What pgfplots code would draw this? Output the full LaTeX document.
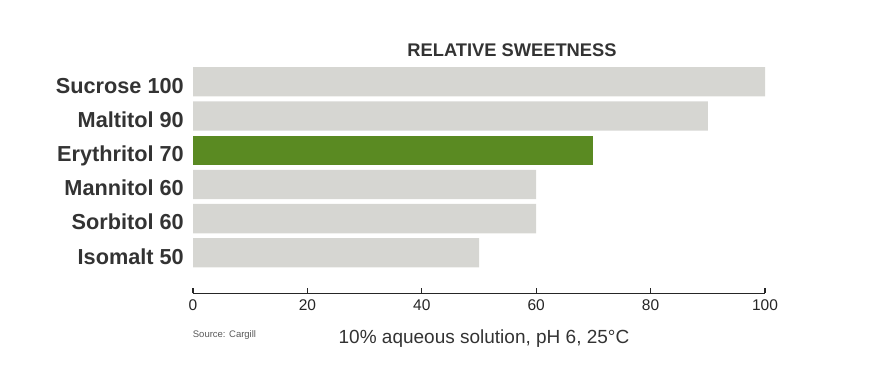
\documentclass[border=0pt]{standalone}
\usepackage{fontspec}
\setmainfont{Liberation Sans}
\usepackage{pgfplots}
\pgfplotsset{compat=1.18}
\definecolor{bargray}{HTML}{D6D6D2}
\definecolor{bargreen}{HTML}{5A8A22}
\definecolor{txt}{HTML}{333333}
\begin{document}
\begin{tikzpicture}
\path[use as bounding box] (0,0) rectangle (875bp,375bp);
\begin{axis}[
  at={(193bp,81.7bp)}, anchor=south west,
  x=5.72bp, y=34.2bp,
  xmin=0, xmax=100, ymin=-1.184, ymax=5.5,
  axis x line*=bottom, axis y line*=left,
  y axis line style={draw=none},
  x axis line style={line width=1.3bp, black!85},
  xtick={0,20,...,100},
  ytick={0,1,2,3,4,5},
  yticklabels={Isomalt 50, Sorbitol 60, Mannitol 60, Erythritol 70, Maltitol 90, Sucrose 100},
  ytick style={draw=none},
  xtick style={line width=1.2bp, black!85},
  tick align=inside,
  major tick length=5bp,
  /pgf/number format/assume math mode=true,
  xticklabel style={font=\fontsize{15.5bp}{15.5bp}\selectfont, text=black!85, inner sep=0pt, anchor=base, yshift=-16.7bp},
  yticklabel style={font=\fontsize{21.7bp}{22bp}\selectfont\bfseries, text=txt, inner sep=0pt, anchor=base east, xshift=-4bp, yshift=-11.2bp},
  xbar, bar width=0.857, bar shift=0pt,
  clip=false,
]
\addplot[draw=none, fill=bargray] coordinates {(100,5) (90,4) (60,2) (60,1) (50,0)};
\addplot[draw=none, fill=bargreen] coordinates {(70,3)};
\end{axis}
\node[font=\fontsize{18.3bp}{18.3bp}\selectfont\bfseries, text=txt, anchor=base] at (512bp,318.5bp) {RELATIVE SWEETNESS};
\node[font=\fontsize{19bp}{19bp}\selectfont, text=txt, anchor=base, inner sep=0pt] at (484bp,31.7bp) {10\% aqueous solution, pH 6, 25°C};
\node[font=\fontsize{9.5bp}{9.5bp}\selectfont, text=black!65, anchor=base west, inner sep=0pt] at (192.7bp,37.7bp) {Source: Cargill};
\end{tikzpicture}
\end{document}
